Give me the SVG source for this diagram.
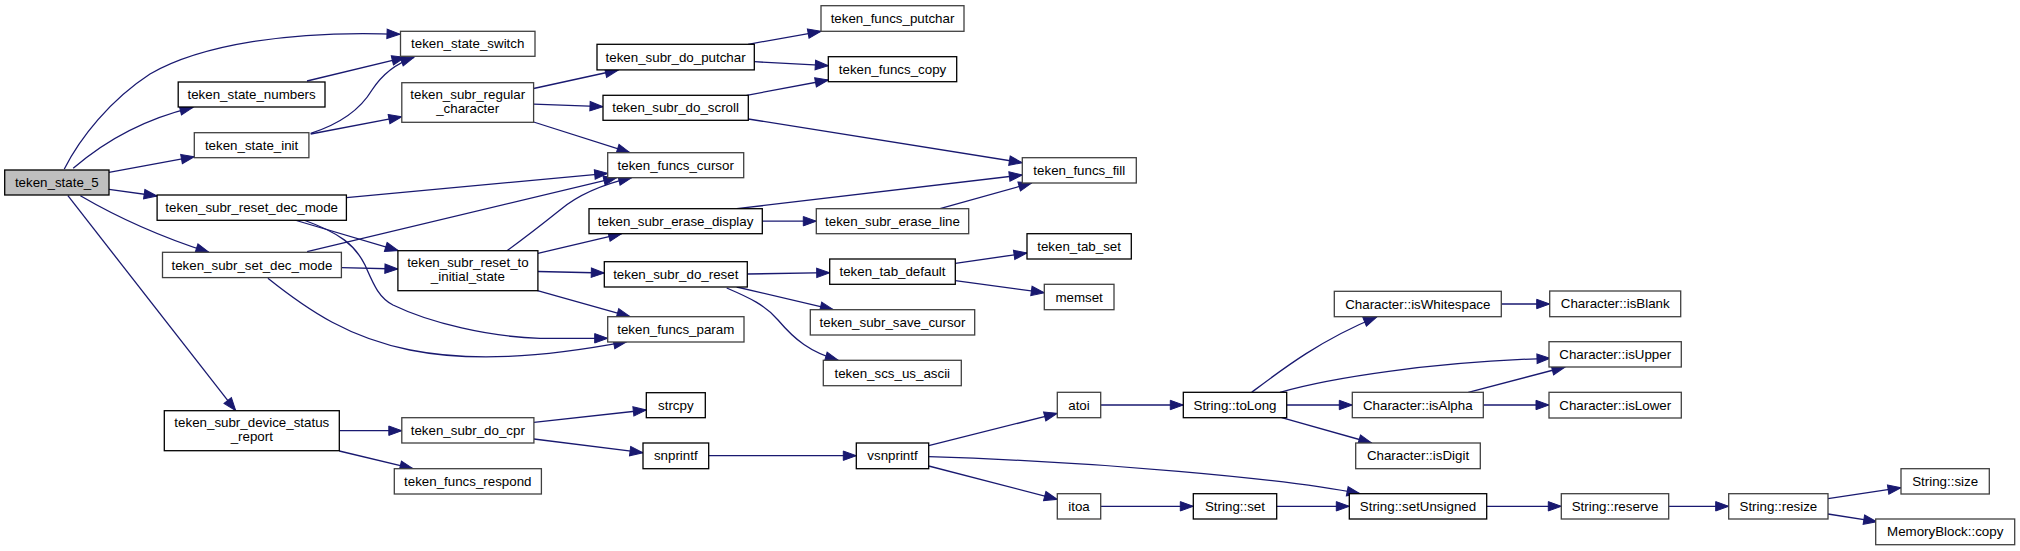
<svg xmlns="http://www.w3.org/2000/svg" width="2020" height="551" viewBox="0 0 2020 551">
<defs>
<style>
.n rect{fill:#fff;stroke:#000;stroke-width:1.3}
.n.g rect{stroke:#404040}
.n text{font-family:"Liberation Sans",Arial,Helvetica,sans-serif;font-size:13.33px;text-anchor:middle;fill:#000}
#edges path{fill:none;stroke:#191970;stroke-width:1.3;marker-end:url(#arr)}
</style>
<marker id="arr" markerUnits="userSpaceOnUse" markerWidth="16" markerHeight="12" refX="13" refY="4.7" orient="auto" overflow="visible">
<path d="M0,0 L13,4.7 L0,9.4 z" fill="#191970" stroke="#191970" stroke-width="1"/>
</marker>
</defs>
<rect width="2020" height="551" fill="#fff"/>
<g id="edges">
<path d="M64.3,169 C80,138 110,100 150,74 C200,45 290,30 400,34.3"/>
<path d="M73.2,168.3 C100,145 140,120 193,107.3"/>
<path d="M109,172.3 L194.3,156.7"/>
<path d="M109,189.3 L157.1,196"/>
<path d="M80.4,195.7 C110,213 155,235 208.9,252.3"/>
<path d="M67.9,195.7 L235.7,410.7"/>
<path d="M307,81 L405,57.3"/>
<path d="M310.7,133.3 C340,124 360,110 372,90 C385,70 400,62 414,57.3"/>
<path d="M310.7,134 L401.8,116.7"/>
<path d="M533.6,88.5 L618.3,70"/>
<path d="M533.6,104.2 L603,106.7"/>
<path d="M533.6,122 L630,152.7"/>
<path d="M748,44.3 L821,31.3"/>
<path d="M754.3,61.7 L828.3,65.7"/>
<path d="M746.7,95.3 L828.3,80"/>
<path d="M748.3,119 L1022.3,162.7"/>
<path d="M736.7,208.7 L1022.3,175"/>
<path d="M762.3,221.2 L816.3,221.2"/>
<path d="M940,208.7 L1031.7,183"/>
<path d="M346.4,197.7 L607.7,173.3"/>
<path d="M294.6,220 L398.2,250.7"/>
<path d="M303.6,220 C340,233 355,245 365,265 C373,283 378,297 393,305 C430,323 490,337 540,338.3 L607.7,338.3"/>
<path d="M267.9,278.3 C310,312 350,338 410,350 C470,362 540,358 626.7,341.7"/>
<path d="M307.1,251.7 L616.7,177.7"/>
<path d="M341.4,267.7 L397.9,269"/>
<path d="M507,250.7 C530,234 545,222 560,210 C578,195 600,185 631.7,177.7"/>
<path d="M537.9,253.3 L621.7,233.7"/>
<path d="M537.9,271.5 L604.3,273"/>
<path d="M537.5,290.7 L630,316.7"/>
<path d="M747.3,274 L829.7,272.7"/>
<path d="M736.7,287 L833.3,309.7"/>
<path d="M726.7,288 C750,298 765,305 778,320 C795,340 810,352 838.3,360.3"/>
<path d="M955.3,263.3 L1027,253"/>
<path d="M955.3,280.7 L1044.3,292.7"/>
<path d="M339.3,430.7 L401.8,430.7"/>
<path d="M339.3,451 L413,468.7"/>
<path d="M533.9,422.3 L646.3,410"/>
<path d="M533.9,439 L643,452.7"/>
<path d="M708.7,455.7 L856.3,455.7"/>
<path d="M928.7,445.7 L1057.3,413.3"/>
<path d="M928.7,456.7 C1100,462 1280,478 1360,493.7"/>
<path d="M928.7,466 L1057.3,499.3"/>
<path d="M1100.7,405 L1183.3,405"/>
<path d="M1100.7,506.3 L1193.3,506.3"/>
<path d="M1276.7,506.3 L1349.3,506.3"/>
<path d="M1251.7,392.3 C1280,371 1320,340 1376.7,317"/>
<path d="M1280,392.3 C1330,378 1430,362 1550,358.3"/>
<path d="M1286.7,405 L1352.3,405"/>
<path d="M1281.7,417.7 L1371.7,443"/>
<path d="M1501.3,304 L1549.7,304"/>
<path d="M1468.3,392.3 L1565,367"/>
<path d="M1483.3,405 L1549,405"/>
<path d="M1486.7,506.3 L1561.3,506.3"/>
<path d="M1668.7,506.3 L1728.7,506.3"/>
<path d="M1828,498.7 L1901,487.7"/>
<path d="M1828,514 L1876.7,521.7"/>
</g>
<g id="n_teken_state_5" class="n"><rect x="4.7" y="170" width="104.3" height="25" style="fill:#bfbfbf"/><text x="56.8" y="187">teken_state_5</text></g>
<g id="n_teken_state_switch" class="n g"><rect x="400.5" y="31.3" width="134.5" height="25"/><text x="467.7" y="48.3">teken_state_switch</text></g>
<g id="n_teken_state_numbers" class="n"><rect x="178.2" y="82" width="146.8" height="25"/><text x="251.6" y="99">teken_state_numbers</text></g>
<g id="n_teken_state_init" class="n g"><rect x="194.3" y="132.7" width="114.6" height="25"/><text x="251.6" y="149.7">teken_state_init</text></g>
<g id="n_teken_subr_regular_character" class="n g"><rect x="401.8" y="82.7" width="131.8" height="39.6"/><text x="467.7" y="99">teken_subr_regular</text><text x="467.7" y="113">_character</text></g>
<g id="n_teken_subr_reset_dec_mode" class="n"><rect x="157.1" y="195" width="189.3" height="25.3"/><text x="251.7" y="212.2">teken_subr_reset_dec_mode</text></g>
<g id="n_teken_subr_set_dec_mode" class="n g"><rect x="162.5" y="252.3" width="178.9" height="25.3"/><text x="251.9" y="269.5">teken_subr_set_dec_mode</text></g>
<g id="n_teken_subr_reset_to_initial_state" class="n"><rect x="397.9" y="250.7" width="140" height="40"/><text x="467.9" y="267.2">teken_subr_reset_to</text><text x="467.9" y="281.2">_initial_state</text></g>
<g id="n_teken_subr_device_status_report" class="n"><rect x="164.3" y="410.7" width="175" height="40"/><text x="251.8" y="427.2">teken_subr_device_status</text><text x="251.8" y="441.2">_report</text></g>
<g id="n_teken_subr_do_cpr" class="n g"><rect x="401.8" y="417.7" width="132.1" height="25.3"/><text x="467.8" y="434.9">teken_subr_do_cpr</text></g>
<g id="n_teken_funcs_respond" class="n g"><rect x="394.3" y="468.7" width="147.1" height="25.3"/><text x="467.8" y="485.9">teken_funcs_respond</text></g>
<g id="n_teken_funcs_putchar" class="n g"><rect x="821" y="5.7" width="143" height="25.6"/><text x="892.5" y="23">teken_funcs_putchar</text></g>
<g id="n_teken_subr_do_putchar" class="n"><rect x="597" y="44.3" width="157.3" height="25.6"/><text x="675.6" y="61.6">teken_subr_do_putchar</text></g>
<g id="n_teken_funcs_copy" class="n"><rect x="828.3" y="56.7" width="128.4" height="25"/><text x="892.5" y="73.7">teken_funcs_copy</text></g>
<g id="n_teken_subr_do_scroll" class="n"><rect x="603" y="95.3" width="145.3" height="25"/><text x="675.6" y="112.3">teken_subr_do_scroll</text></g>
<g id="n_teken_funcs_cursor" class="n g"><rect x="607.7" y="152.7" width="136" height="25"/><text x="675.7" y="169.7">teken_funcs_cursor</text></g>
<g id="n_teken_funcs_fill" class="n g"><rect x="1022.3" y="157.7" width="114" height="25.3"/><text x="1079.3" y="174.9">teken_funcs_fill</text></g>
<g id="n_teken_subr_erase_display" class="n"><rect x="589" y="208.7" width="173.3" height="25"/><text x="675.6" y="225.7">teken_subr_erase_display</text></g>
<g id="n_teken_subr_erase_line" class="n g"><rect x="816.3" y="208.7" width="152.4" height="25"/><text x="892.5" y="225.7">teken_subr_erase_line</text></g>
<g id="n_teken_tab_set" class="n"><rect x="1027" y="233.7" width="104.3" height="25.3"/><text x="1079.1" y="250.9">teken_tab_set</text></g>
<g id="n_teken_subr_do_reset" class="n"><rect x="604.3" y="261.7" width="143" height="25.3"/><text x="675.8" y="278.9">teken_subr_do_reset</text></g>
<g id="n_teken_tab_default" class="n"><rect x="829.7" y="259" width="125.6" height="25.3"/><text x="892.5" y="276.2">teken_tab_default</text></g>
<g id="n_memset" class="n g"><rect x="1044.3" y="284.3" width="69.7" height="25.4"/><text x="1079.1" y="301.5">memset</text></g>
<g id="n_teken_funcs_param" class="n g"><rect x="607.7" y="316.7" width="136.3" height="25.3"/><text x="675.8" y="333.9">teken_funcs_param</text></g>
<g id="n_teken_subr_save_cursor" class="n g"><rect x="810.3" y="309.7" width="164.4" height="25.3"/><text x="892.5" y="326.9">teken_subr_save_cursor</text></g>
<g id="n_teken_scs_us_ascii" class="n g"><rect x="823.3" y="360.3" width="138" height="25.4"/><text x="892.3" y="377.5">teken_scs_us_ascii</text></g>
<g id="n_strcpy" class="n"><rect x="646.3" y="392.7" width="59" height="25"/><text x="675.8" y="409.7">strcpy</text></g>
<g id="n_snprintf" class="n"><rect x="643" y="443" width="65.7" height="25.7"/><text x="675.8" y="460.4">snprintf</text></g>
<g id="n_vsnprintf" class="n"><rect x="856.3" y="443" width="72.4" height="25.7"/><text x="892.5" y="460.4">vsnprintf</text></g>
<g id="n_atoi" class="n g"><rect x="1057.3" y="392.3" width="43.4" height="25.4"/><text x="1079" y="409.5">atoi</text></g>
<g id="n_itoa" class="n g"><rect x="1057.3" y="493.7" width="43.4" height="25.3"/><text x="1079" y="510.9">itoa</text></g>
<g id="n_String_toLong" class="n"><rect x="1183.3" y="392.3" width="103.4" height="25.4"/><text x="1235" y="409.5">String::toLong</text></g>
<g id="n_Character_isWhitespace" class="n g"><rect x="1334.3" y="291.3" width="167" height="25.4"/><text x="1417.8" y="308.5">Character::isWhitespace</text></g>
<g id="n_Character_isAlpha" class="n g"><rect x="1352.3" y="392.3" width="131" height="25.4"/><text x="1417.8" y="409.5">Character::isAlpha</text></g>
<g id="n_Character_isDigit" class="n g"><rect x="1355.7" y="443" width="124.6" height="25.7"/><text x="1418" y="460.4">Character::isDigit</text></g>
<g id="n_String_set" class="n"><rect x="1193.3" y="493.7" width="83.4" height="25.3"/><text x="1235" y="510.9">String::set</text></g>
<g id="n_String_setUnsigned" class="n"><rect x="1349.3" y="493.7" width="137.4" height="25.3"/><text x="1418" y="510.9">String::setUnsigned</text></g>
<g id="n_Character_isBlank" class="n g"><rect x="1549.7" y="291" width="131" height="25.7"/><text x="1615.2" y="308.4">Character::isBlank</text></g>
<g id="n_Character_isUpper" class="n g"><rect x="1549" y="341.7" width="132.3" height="25.3"/><text x="1615.2" y="358.9">Character::isUpper</text></g>
<g id="n_Character_isLower" class="n g"><rect x="1549" y="392.3" width="132.3" height="25.7"/><text x="1615.2" y="409.7">Character::isLower</text></g>
<g id="n_String_reserve" class="n g"><rect x="1561.3" y="493.7" width="107.4" height="25.3"/><text x="1615" y="510.9">String::reserve</text></g>
<g id="n_String_resize" class="n g"><rect x="1728.7" y="493.7" width="99.3" height="25.3"/><text x="1778.4" y="510.9">String::resize</text></g>
<g id="n_String_size" class="n g"><rect x="1901" y="468.7" width="88.3" height="25.3"/><text x="1945.2" y="485.9">String::size</text></g>
<g id="n_MemoryBlock_copy" class="n g"><rect x="1875.7" y="519" width="139" height="25.7"/><text x="1945.2" y="536.4">MemoryBlock::copy</text></g>
</svg>
